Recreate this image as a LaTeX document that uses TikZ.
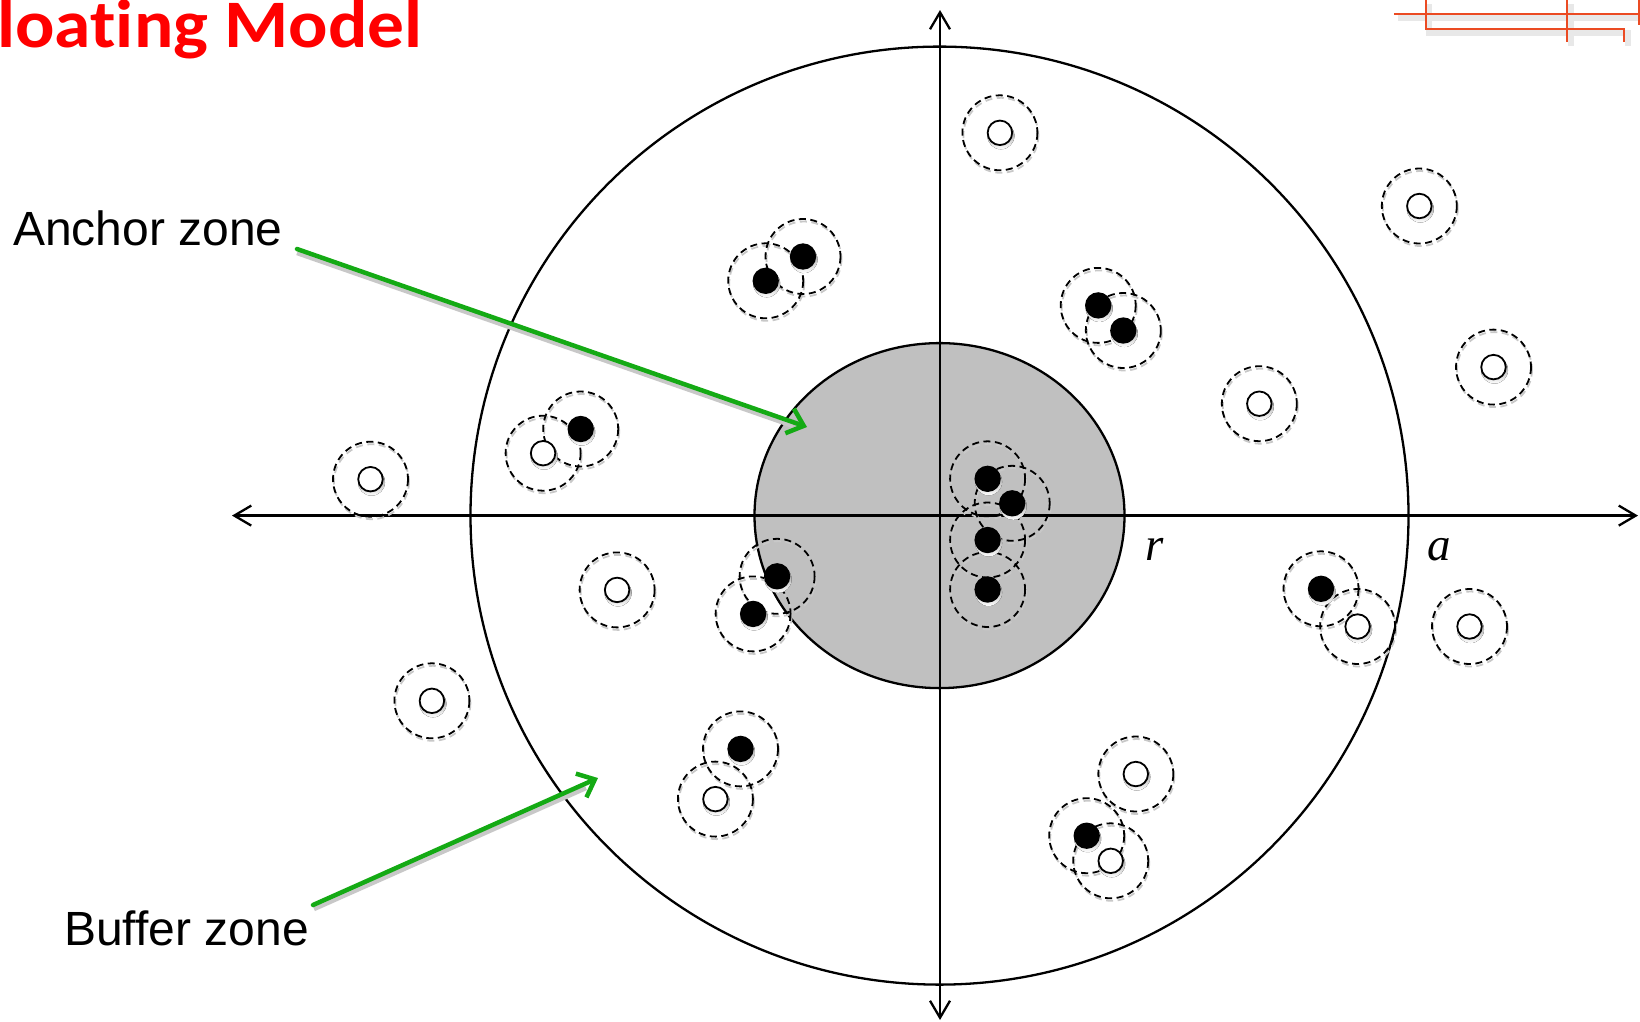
\documentclass[tikz,border=0pt]{standalone}
\usepackage{fontspec}
\setmainfont{Liberation Sans}
\newfontfamily\titlefont[Ligatures=NoCommon]{Carlito}
\newfontfamily\serifletters{Liberation Serif}
\usetikzlibrary{arrows.meta}

\definecolor{zonegray}{RGB}{192,192,192}
\definecolor{pointgreen}{RGB}{20,170,20}
\definecolor{titlered}{RGB}{255,0,0}
\definecolor{logored}{RGB}{235,75,35}
\definecolor{shade}{RGB}{200,200,200}
\definecolor{logoshade}{RGB}{232,232,232}

\begin{document}
\begin{tikzpicture}[x=1pt,y=-1pt,
  axisline/.style={line width=2.3pt,
    {Straight Barb[length=17pt,width=20pt]}-{Straight Barb[length=17pt,width=20pt]}},
  zoneline/.style={line width=2.3pt},
  ring/.style={draw=black, line width=1.8pt, dash pattern=on 7pt off 4.5pt},
  ringshade/.style={draw=shade, line width=1.8pt, dash pattern=on 7pt off 4.5pt},
  dot/.style={circle, draw=black, line width=1.8pt, minimum size=24.5pt, inner sep=0pt},
  pointer/.style={draw=pointgreen, line width=4.5pt, line cap=round,
    -{Straight Barb[length=15pt,width=26pt]}},
  pointershade/.style={draw=shade, line width=4.5pt},
  label/.style={font=\fontsize{48}{58}\selectfont, inner sep=0pt},
  symbol/.style={font=\serifletters\itshape\fontsize{47}{56}\selectfont, inner sep=0pt},
  logo/.style={draw=logored, line width=2pt},
  logoback/.style={draw=logoshade, line width=6pt}]

\useasboundingbox (0,0) rectangle (1640,1021);
\clip (0,0) rectangle (1640,1021);

% heading (runs off the left edge of the page)
\node[anchor=base east, text=titlered, inner sep=0pt, xscale=1.08,
      font=\titlefont\bfseries\fontsize{68}{76}\selectfont] (title) at (423,47) {Floating Model};

% corner ornament
\draw[logoback] (1398,18) -- (1640,18);
\draw[logoback] (1429,4) -- (1429,33) -- (1628,33) -- (1628,46);
\draw[logoback] (1571,4) -- (1571,46);
\draw[logo] (1394,14) -- (1640,14);
\draw[logo] (1425.5,0) -- (1425.5,29) -- (1624,29) -- (1624,42);
\draw[logo] (1567,0) -- (1567,42);
\draw[logo] (1638.5,0) -- (1638.5,25);

% zones
\coordinate (origin) at (939.5,515.6);
\draw[zoneline] (origin) circle[radius=469];
\draw[zoneline, fill=zonegray] (origin) ellipse[x radius=185, y radius=172.5];

% axes
\coordinate (xleft) at (232,515.6);
\coordinate (xright) at (1638,515.6);
\coordinate (ytop) at (940,10);
\coordinate (ybottom) at (940,1020);
\draw[axisline] (xleft) -- (xright);
\draw[axisline] (ybottom) -- (ytop);

% radius labels
\node[symbol, anchor=base west] (rlabel) at (1145,560) {r};
\node[symbol, anchor=base west] (alabel) at (1427,560) {a};

% sensors: name / x / y / fill
\def\sensorlist{
  o1/999.9/132.8/white, o2/1419.3/206.0/white, o3/1493.5/367.1/white,
  o4/1259.3/403.7/white, o5/370.5/479.2/white, o6/543.1/453.2/white,
  o7/617.1/589.9/white, o8/431.9/700.8/white, o9/1357.6/626.5/white,
  o10/1469.5/626.5/white, o11/1135.8/774.0/white, o12/715.4/799.1/white,
  o13/1110.7/860.8/white,
  f1/803.0/256.5/black, f2/765.7/280.8/black, f3/1098.2/305.4/black,
  f4/1123.3/330.5/black, f5/580.7/429.0/black, f6/987.6/478.8/black,
  f7/1012.2/503.3/black, f8/987.6/540.0/black, f9/987.6/589.5/black,
  f10/777.1/576.3/black, f11/753.1/613.9/black, f12/1321.0/588.8/black,
  f13/740.5/748.9/black, f14/1086.7/835.7/black}

% dashed ranges with their shadows
\foreach \n/\x/\y/\c in \sensorlist {
  \draw[ringshade] (\x+1,\y+2.5) circle[radius=37.5];
}
\foreach \n/\x/\y/\c in \sensorlist {
  \draw[ring] (\x,\y) circle[radius=37.5];
}
% sensor dots
\foreach \n/\x/\y/\c in \sensorlist {
  \fill[shade] (\x+1,\y+3) circle[radius=13.5];
}
\foreach \n/\x/\y/\c in \sensorlist {
  \node[dot, fill=\c] (\n) at (\x,\y) {};
}

% zone labels and pointers
\node[label, anchor=base west] (anchorlabel) at (13,245) {Anchor zone};
\node[label, anchor=base west] (bufferlabel) at (64,945) {Buffer zone};
\coordinate (anchortail) at (297,249);
\coordinate (anchortip) at (807,427);
\coordinate (buffertail) at (313,905);
\coordinate (buffertip) at (598,778);
\draw[pointershade] ([shift={(0,4)}]anchortail) -- ([shift={(-14,-1)}]anchortip);
\draw[pointershade] ([shift={(1,4)}]buffertail) -- ([shift={(-12,10)}]buffertip);
\draw[pointer] (anchortail) -- (anchortip);
\draw[pointer] (buffertail) -- (buffertip);
\end{tikzpicture}
\end{document}
